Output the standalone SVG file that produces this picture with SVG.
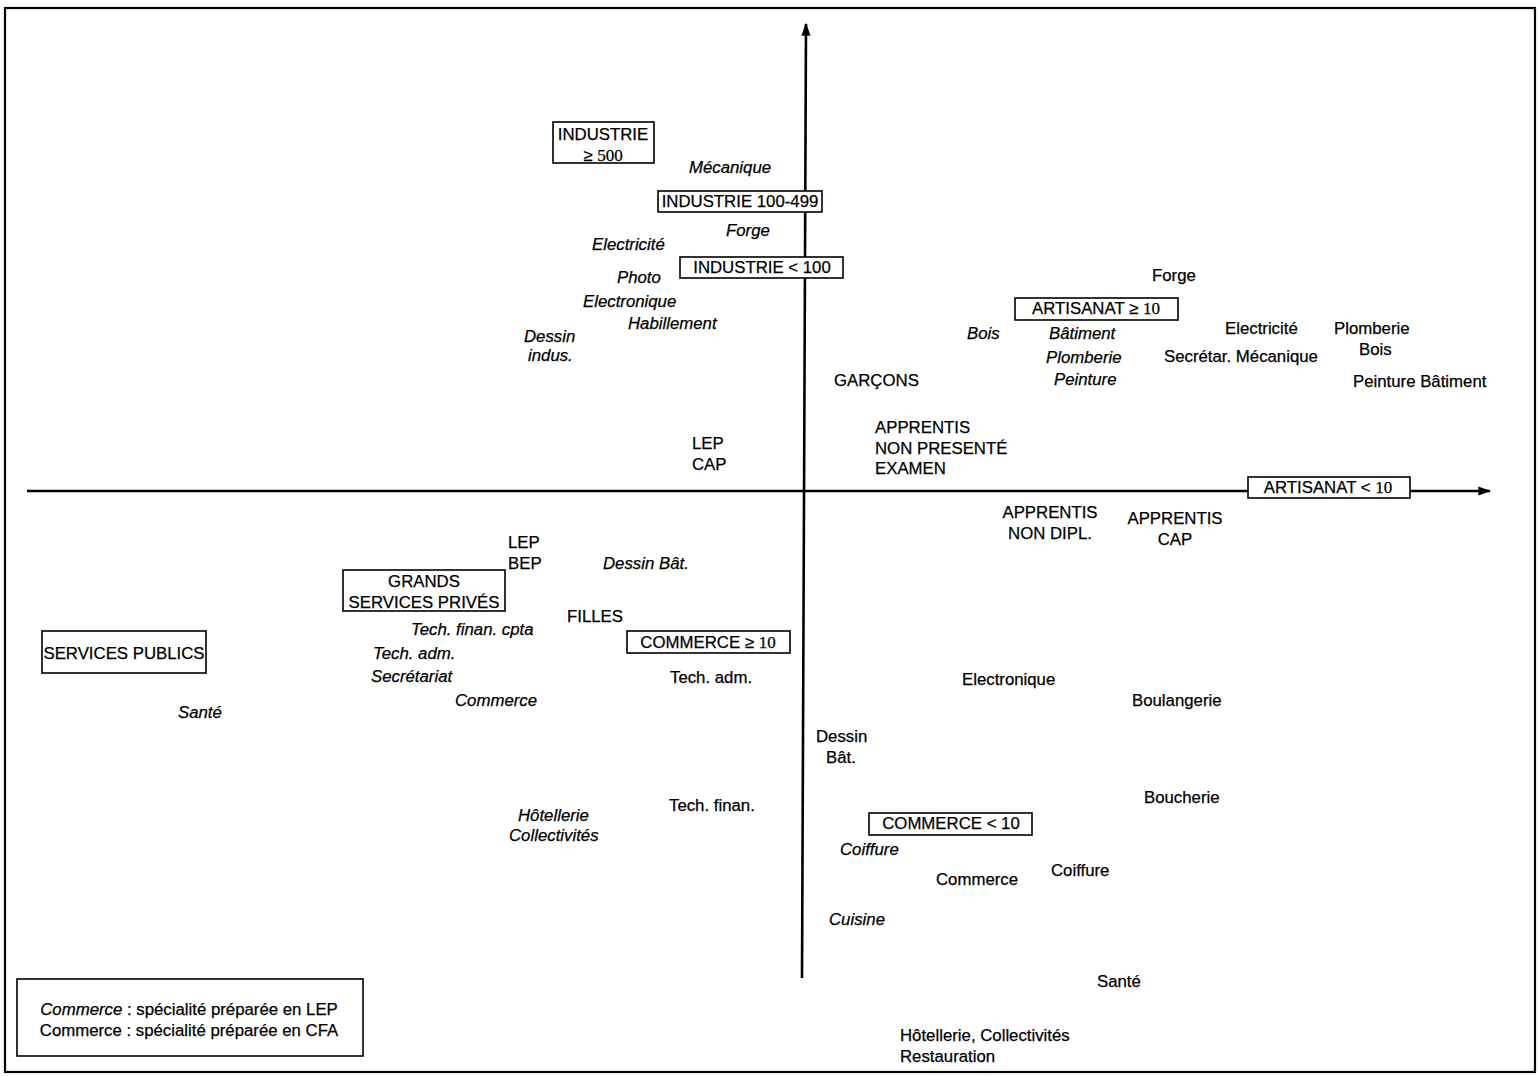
<svg xmlns="http://www.w3.org/2000/svg" width="1538" height="1076" viewBox="0 0 1538 1076">
  <style>
    text { font-family: "Liberation Sans", Arial, sans-serif; font-size: 16.8px; fill: #000; stroke: #000; stroke-width: 0.25; }
    .it { font-style: italic; }
    .c { text-anchor: middle; }
    .box { fill: #fff; stroke: #000; stroke-width: 1.6; }
    .axis { stroke: #000; stroke-width: 2.6; fill: none; }
    .num { font-family: "Liberation Serif", "Times New Roman", serif; font-size: 17px; }
  </style>
  <defs>
    <marker id="arrow" viewBox="0 0 10 10" refX="9" refY="5" markerWidth="5" markerHeight="5" orient="auto" markerUnits="strokeWidth">
      <path d="M0,1.5 L10,5 L0,8.5 Z" fill="#000"/>
    </marker>
  </defs>

  <rect x="0" y="0" width="1538" height="1076" fill="#fff"/>
  <!-- outer frame -->
  <rect x="5" y="8" width="1530" height="1064" fill="none" stroke="#000" stroke-width="2.2"/>

  <!-- axes of the factorial plane -->
  <g id="connectors">
    <line class="axis" x1="802" y1="978" x2="806" y2="24" marker-end="url(#arrow)"/>
    <line class="axis" x1="27" y1="491" x2="1490" y2="491" marker-end="url(#arrow)"/>
  </g>

  <!-- boxed modalities -->
  <g id="industrie-500">
    <rect class="box" x="553" y="122" width="101" height="41"/>
    <text class="c" x="603" y="140">INDUSTRIE</text>
    <text class="c" x="603" y="161">≥ <tspan class="num">500</tspan></text>
  </g>
  <g id="industrie-100-499">
    <rect class="box" x="658" y="191" width="164" height="21"/>
    <text class="c" x="740" y="207">INDUSTRIE 100-499</text>
  </g>
  <g id="industrie-100">
    <rect class="box" x="680" y="257" width="163" height="21"/>
    <text class="c" x="762" y="273">INDUSTRIE &lt; 100</text>
  </g>
  <g id="artisanat-10-plus">
    <rect class="box" x="1015" y="298" width="163" height="22"/>
    <text class="c" x="1096" y="314">ARTISANAT ≥ <tspan class="num">10</tspan></text>
  </g>
  <g id="artisanat-10-moins">
    <rect class="box" x="1248" y="477" width="162" height="21"/>
    <text class="c" x="1328" y="493">ARTISANAT &lt; <tspan class="num">10</tspan></text>
  </g>
  <g id="grands-services-prives">
    <rect class="box" x="343" y="570" width="162" height="41"/>
    <text class="c" x="424" y="587">GRANDS</text>
    <text class="c" x="424" y="608">SERVICES PRIVÉS</text>
  </g>
  <g id="services-publics">
    <rect class="box" x="42" y="631" width="164" height="42"/>
    <text class="c" x="124" y="659">SERVICES PUBLICS</text>
  </g>
  <g id="commerce-10-plus">
    <rect class="box" x="627" y="631" width="163" height="22"/>
    <text class="c" x="708" y="648">COMMERCE ≥ <tspan class="num">10</tspan></text>
  </g>
  <g id="commerce-10-moins">
    <rect class="box" x="869" y="813" width="163" height="22"/>
    <text class="c" x="951" y="829">COMMERCE &lt; 10</text>
  </g>

  <!-- specialities prepared in LEP (italic) -->
  <g id="lep-specialites">
    <text class="it" x="689" y="173">Mécanique</text>
    <text class="it" x="726" y="236">Forge</text>
    <text class="it" x="592" y="250">Electricité</text>
    <text class="it" x="617" y="283">Photo</text>
    <text class="it" x="583" y="307">Electronique</text>
    <text class="it" x="628" y="329">Habillement</text>
    <text class="it" x="524" y="342">Dessin</text>
    <text class="it" x="528" y="361">indus.</text>
    <text class="it" x="967" y="339">Bois</text>
    <text class="it" x="1049" y="339">Bâtiment</text>
    <text class="it" x="1046" y="363">Plomberie</text>
    <text class="it" x="1054" y="385">Peinture</text>
    <text class="it" x="603" y="569">Dessin Bât.</text>
    <text class="it" x="411" y="635">Tech. finan. cpta</text>
    <text class="it" x="373" y="659">Tech. adm.</text>
    <text class="it" x="371" y="682">Secrétariat</text>
    <text class="it" x="455" y="706">Commerce</text>
    <text class="it" x="178" y="718">Santé</text>
    <text class="it" x="518" y="821">Hôtellerie</text>
    <text class="it" x="509" y="841">Collectivités</text>
    <text class="it" x="840" y="855">Coiffure</text>
    <text class="it" x="829" y="925">Cuisine</text>
  </g>

  <!-- specialities prepared in CFA (upright) -->
  <g id="cfa-specialites">
    <text x="1152" y="281">Forge</text>
    <text x="1225" y="334">Electricité</text>
    <text x="1334" y="334">Plomberie</text>
    <text x="1359" y="355">Bois</text>
    <text x="1164" y="362">Secrétar. Mécanique</text>
    <text x="1353" y="387">Peinture Bâtiment</text>
    <text x="670" y="683">Tech. adm.</text>
    <text x="962" y="685">Electronique</text>
    <text x="1132" y="706">Boulangerie</text>
    <text x="816" y="742">Dessin</text>
    <text x="826" y="763">Bât.</text>
    <text x="669" y="811">Tech. finan.</text>
    <text x="1144" y="803">Boucherie</text>
    <text x="936" y="885">Commerce</text>
    <text x="1051" y="876">Coiffure</text>
    <text x="1097" y="987">Santé</text>
    <text x="900" y="1041">Hôtellerie, Collectivités</text>
    <text x="900" y="1062">Restauration</text>
  </g>

  <!-- supplementary variables -->
  <g id="garcons"><text x="834" y="386">GARÇONS</text></g>
  <g id="apprentis-non-presente">
    <text x="875" y="433">APPRENTIS</text>
    <text x="875" y="454">NON PRESENTÉ</text>
    <text x="875" y="474">EXAMEN</text>
  </g>
  <g id="lep-cap">
    <text x="692" y="449">LEP</text>
    <text x="692" y="470">CAP</text>
  </g>
  <g id="apprentis-non-dipl">
    <text class="c" x="1050" y="518">APPRENTIS</text>
    <text class="c" x="1050" y="539">NON DIPL.</text>
  </g>
  <g id="apprentis-cap">
    <text class="c" x="1175" y="524">APPRENTIS</text>
    <text class="c" x="1175" y="545">CAP</text>
  </g>
  <g id="lep-bep">
    <text x="508" y="548">LEP</text>
    <text x="508" y="569">BEP</text>
  </g>
  <g id="filles"><text x="567" y="622">FILLES</text></g>

  <!-- legend -->
  <g id="legende">
    <rect class="box" x="17" y="979" width="346" height="77"/>
    <text class="c" x="189" y="1015"><tspan class="it">Commerce</tspan> : spécialité préparée en LEP</text>
    <text class="c" x="189" y="1036">Commerce : spécialité préparée en CFA</text>
  </g>
</svg>
